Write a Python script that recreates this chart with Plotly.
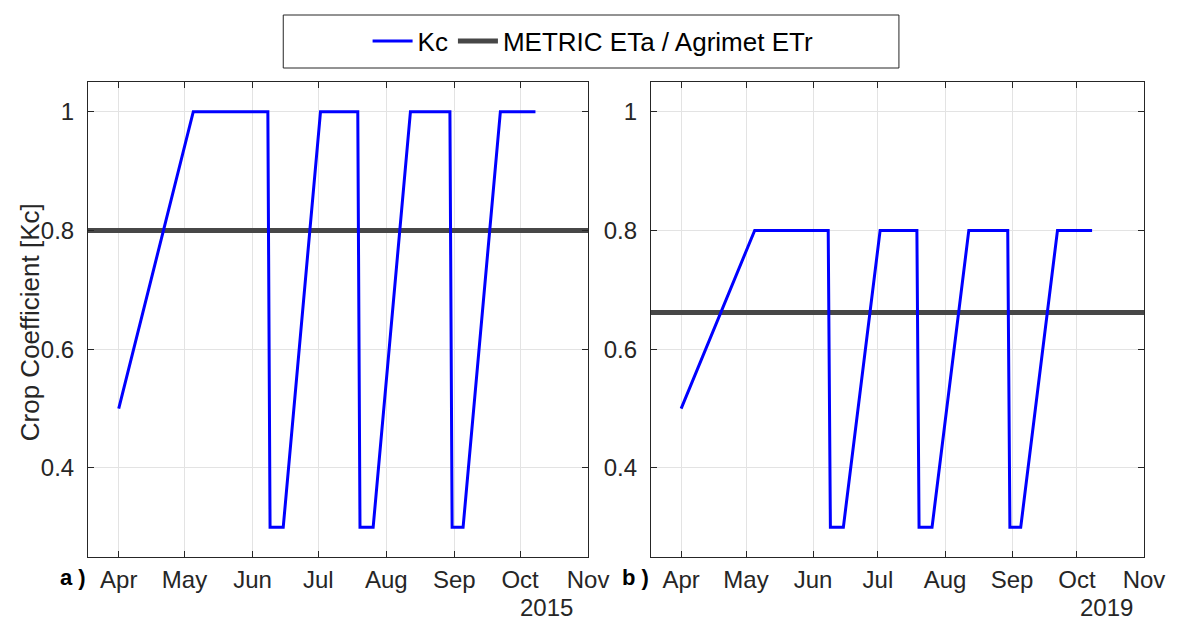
import plotly.graph_objects as go

# ---- data ----
kc_dates_2015 = ["2015-04-01", "2015-05-05", "2015-06-08", "2015-06-09", "2015-06-15",
                 "2015-07-02", "2015-07-19", "2015-07-20", "2015-07-26", "2015-08-12",
                 "2015-08-30", "2015-08-31", "2015-09-05", "2015-09-22", "2015-10-08"]
kc_2015 = [0.5, 1.0, 1.0, 0.3, 0.3, 1.0, 1.0, 0.3, 0.3, 1.0, 1.0, 0.3, 0.3, 1.0, 1.0]

kc_dates_2019 = ["2019-04-01", "2019-05-05", "2019-06-08", "2019-06-09", "2019-06-15",
                 "2019-07-02", "2019-07-19", "2019-07-20", "2019-07-26", "2019-08-12",
                 "2019-08-30", "2019-08-31", "2019-09-05", "2019-09-22", "2019-10-08"]
kc_2019 = [0.5, 0.8, 0.8, 0.3, 0.3, 0.8, 0.8, 0.3, 0.3, 0.8, 0.8, 0.3, 0.3, 0.8, 0.8]

ratio_2015 = 0.80   # METRIC ETa / Agrimet ETr
ratio_2019 = 0.662

range_2015 = ["2015-03-18", "2015-11-01"]
range_2019 = ["2019-03-18", "2019-11-01"]

month_labels = ["Apr", "May", "Jun", "Jul", "Aug", "Sep", "Oct", "Nov"]
month_ticks_2015 = ["2015-%02d-01" % m for m in range(4, 12)]
month_ticks_2019 = ["2019-%02d-01" % m for m in range(4, 12)]

y_ticks = [0.4, 0.6, 0.8, 1.0]
y_labels = ["0.4", "0.6", "0.8", "1"]

BLUE = "#0000ff"
GRAY = "#474747"
FONT = "Liberation Sans, Arial, Helvetica, sans-serif"
TXT = "#262626"

fig = go.Figure()

# left panel
fig.add_trace(go.Scatter(x=range_2015, y=[ratio_2015, ratio_2015], mode="lines",
                         line=dict(color=GRAY, width=5), name="METRIC ETa / Agrimet ETr",
                         xaxis="x", yaxis="y", showlegend=False))
fig.add_trace(go.Scatter(x=kc_dates_2015, y=kc_2015, mode="lines",
                         line=dict(color=BLUE, width=3), name="Kc",
                         xaxis="x", yaxis="y", showlegend=True, legendrank=1))
# right panel
fig.add_trace(go.Scatter(x=range_2019, y=[ratio_2019, ratio_2019], mode="lines",
                         line=dict(color=GRAY, width=5), name="METRIC ETa / Agrimet ETr",
                         xaxis="x2", yaxis="y2", showlegend=True, legendrank=2))
fig.add_trace(go.Scatter(x=kc_dates_2019, y=kc_2019, mode="lines",
                         line=dict(color=BLUE, width=3), name="Kc",
                         xaxis="x2", yaxis="y2", showlegend=False))

L, R, T, B = 88, 29, 82, 64
W, H = 1177, 621
pw = W - L - R
ph = H - T - B


def px_x(p):
    return (p - L) / pw


def px_y(p):
    return (H - B - p) / ph


common_x = dict(showline=True, linecolor=TXT, linewidth=1, mirror="allticks",
                ticks="inside", ticklen=6, tickcolor=TXT, showgrid=True,
                gridcolor="#e3e3e3", gridwidth=1, zeroline=False,
                tickfont=dict(family=FONT, size=24, color=TXT), ticklabelstandoff=1)
common_y = dict(showline=True, linecolor=TXT, linewidth=1, mirror="allticks",
                ticks="inside", ticklen=6, tickcolor=TXT, showgrid=True,
                gridcolor="#e3e3e3", gridwidth=1, zeroline=False,
                range=[0.25, 1.05], tickvals=y_ticks, ticktext=y_labels,
                tickfont=dict(family=FONT, size=24, color=TXT), ticklabelstandoff=8)

fig.update_layout(
    width=W, height=H,
    margin=dict(l=L, r=R, t=T, b=B),
    paper_bgcolor="white", plot_bgcolor="white",
    xaxis=dict(domain=[0, px_x(590)], range=range_2015, tickvals=month_ticks_2015,
               ticktext=month_labels, anchor="y", **common_x),
    yaxis=dict(domain=[0, 1], anchor="x", **common_y),
    xaxis2=dict(domain=[px_x(653), 1], range=range_2019, tickvals=month_ticks_2019,
                ticktext=month_labels, anchor="y2", **common_x),
    yaxis2=dict(domain=[0, 1], anchor="x2", **common_y),
    legend=dict(orientation="h", x=px_x(595), y=px_y(41), xanchor="center", yanchor="middle",
                font=dict(family=FONT, size=26, color="#000000"), bgcolor="rgba(0,0,0,0)",
                borderwidth=0, itemwidth=40, tracegroupgap=0),
    showlegend=True,
)

# legend frame
fig.add_shape(type="rect", xref="paper", yref="paper",
              x0=px_x(284), x1=px_x(902), y0=px_y(68), y1=px_y(15),
              line=dict(color=TXT, width=1), fillcolor="white", layer="below")

# y axis title
fig.add_annotation(text="Crop Coefficient [Kc]", xref="paper", yref="paper",
                   x=px_x(30), y=px_y(322), textangle=-90, showarrow=False,
                   font=dict(family=FONT, size=26, color=TXT), xanchor="center", yanchor="middle")

# year labels
fig.add_annotation(text="2015", xref="paper", yref="paper", x=px_x(548), y=px_y(607),
                   showarrow=False, font=dict(family=FONT, size=24, color=TXT),
                   xanchor="center", yanchor="middle")
fig.add_annotation(text="2019", xref="paper", yref="paper", x=px_x(1110), y=px_y(607),
                   showarrow=False, font=dict(family=FONT, size=24, color=TXT),
                   xanchor="center", yanchor="middle")

# panel letters
fig.add_annotation(text="<b>a )</b>", xref="paper", yref="paper", x=px_x(73), y=px_y(577),
                   showarrow=False, font=dict(family=FONT, size=22, color="#000000"),
                   xanchor="center", yanchor="middle")
fig.add_annotation(text="<b>b )</b>", xref="paper", yref="paper", x=px_x(638), y=px_y(577),
                   showarrow=False, font=dict(family=FONT, size=22, color="#000000"),
                   xanchor="center", yanchor="middle")

fig.write_html("out.html")
